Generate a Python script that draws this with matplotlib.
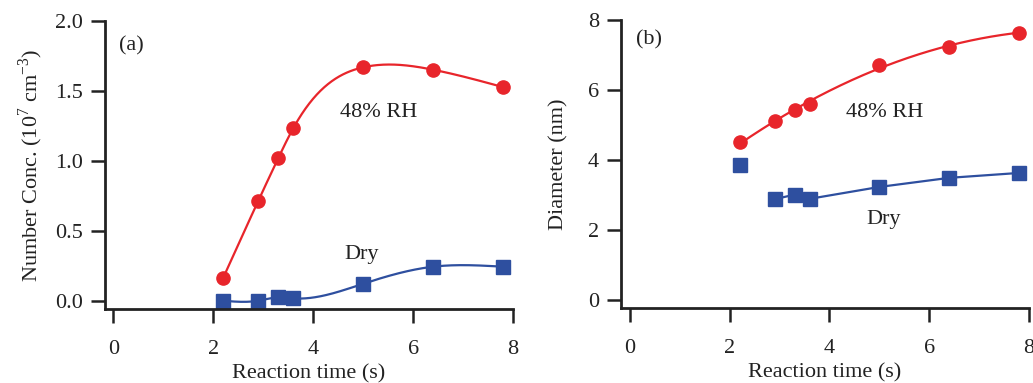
import numpy as np
import matplotlib
matplotlib.use("Agg")
import matplotlib.pyplot as plt

plt.rcParams['font.family'] = ['Liberation Serif', 'DejaVu Serif']
plt.rcParams['mathtext.fontset'] = 'custom'
plt.rcParams['mathtext.rm'] = 'Liberation Serif'

# Data
time_s = [2.2, 2.9, 3.3, 3.6, 5.0, 6.4, 7.8]
conc_rh48 = [0.164, 0.712, 1.017, 1.231, 1.667, 1.650, 1.526]
conc_dry = [0.0, 0.0, 0.024, 0.017, 0.121, 0.243, 0.243]
diam_rh48 = [4.50, 5.10, 5.43, 5.60, 6.72, 7.23, 7.64]
diam_dry = [3.87, 2.88, 3.01, 2.89, 3.23, 3.49, 3.63]

RED = '#e8252b'
BLUE = '#2e4f9f'
FS = 16
TXT = '#222222'


def natural_spline(x, y, xs):
    x = np.asarray(x, float)
    y = np.asarray(y, float)
    n = len(x)
    h = np.diff(x)
    A = np.zeros((n, n))
    b = np.zeros(n)
    A[0, 0] = A[-1, -1] = 1
    for i in range(1, n - 1):
        A[i, i - 1] = h[i - 1]
        A[i, i] = 2 * (h[i - 1] + h[i])
        A[i, i + 1] = h[i]
        b[i] = 6 * ((y[i + 1] - y[i]) / h[i] - (y[i] - y[i - 1]) / h[i - 1])
    M = np.linalg.solve(A, b)
    idx = np.clip(np.searchsorted(x, xs) - 1, 0, n - 2)
    x0, x1 = x[idx], x[idx + 1]
    hh = x1 - x0
    a = (x1 - xs) / hh
    c = (xs - x0) / hh
    return (a * y[idx] + c * y[idx + 1]
            + ((a ** 3 - a) * M[idx] + (c ** 3 - c) * M[idx + 1]) * hh ** 2 / 6)


fig = plt.figure(figsize=(10.33, 3.83), dpi=100)


def style(ax, xlim, ylim, yticks, yfmt):
    ax.set_xlim(*xlim)
    ax.set_ylim(*ylim)
    for s in ['top', 'right']:
        ax.spines[s].set_visible(False)
    for s in ['left', 'bottom']:
        ax.spines[s].set_linewidth(2.0)
        ax.spines[s].set_color(TXT)
    ax.set_xticks([0, 2, 4, 6, 8])
    ax.set_yticks(yticks)
    ax.set_yticklabels([yfmt(v) for v in yticks])
    ax.tick_params(axis='both', direction='out', length=10, width=1.8,
                   color=TXT, labelsize=FS, labelcolor=TXT)
    ax.tick_params(axis='x', pad=12)
    ax.tick_params(axis='y', pad=6)
    ax.set_xlabel('Reaction time (s)', fontsize=FS, color=TXT, labelpad=4)


tt = np.linspace(2.2, 7.8, 300)

# Panel (a)
ax1 = fig.add_axes([105/1033, (383-309)/383, 408/1033, 288.3/383])
style(ax1, (-0.166, 8.0), (-0.059, 2.0), [0.0, 0.5, 1.0, 1.5, 2.0], lambda v: f'{v:.1f}')
ax1.plot(tt, natural_spline(time_s, conc_rh48, tt), color=RED, lw=1.6)
ax1.plot(tt, natural_spline(time_s, conc_dry, tt), color=BLUE, lw=1.6)
ax1.plot(time_s, conc_rh48, 'o', color=RED, ms=9.5, mec=RED, clip_on=False)
ax1.plot(time_s, conc_dry, 's', color=BLUE, ms=9.5, mec=BLUE, clip_on=False)
ax1.set_ylabel('Number Conc. (10$^{7}$ cm$^{-3}$)', fontsize=FS, color=TXT, labelpad=7)
ax1.text(0.12, 1.82, '(a)', fontsize=FS, color=TXT, va='center')
ax1.text(4.54, 1.346, '48% RH', fontsize=FS, color=TXT, va='center')
ax1.text(4.63, 0.333, 'Dry', fontsize=FS, color=TXT, va='center')

# Panel (b)
ax2 = fig.add_axes([621/1033, (383-308)/383, 408/1033, 288/383])
style(ax2, (-0.18, 8.0), (-0.229, 8.0), [0, 2, 4, 6, 8], lambda v: f'{v:d}')
p_r2 = np.polyfit(time_s, diam_rh48, 2)
ax2.plot(tt, np.polyval(p_r2, tt), color=RED, lw=1.6)
ax2.plot(time_s[1:], diam_dry[1:], '-', color=BLUE, lw=1.6)
ax2.plot(time_s, diam_rh48, 'o', color=RED, ms=9.5, mec=RED, clip_on=False)
ax2.plot(time_s, diam_dry, 's', color=BLUE, ms=9.5, mec=BLUE, clip_on=False)
ax2.set_ylabel('Diameter (nm)', fontsize=FS, color=TXT, labelpad=14)
ax2.text(0.12, 7.43, '(b)', fontsize=FS, color=TXT, va='center')
ax2.text(4.33, 5.35, '48% RH', fontsize=FS, color=TXT, va='center')
ax2.text(4.74, 2.29, 'Dry', fontsize=FS, color=TXT, va='center')

fig.savefig('out.png', dpi=100)
